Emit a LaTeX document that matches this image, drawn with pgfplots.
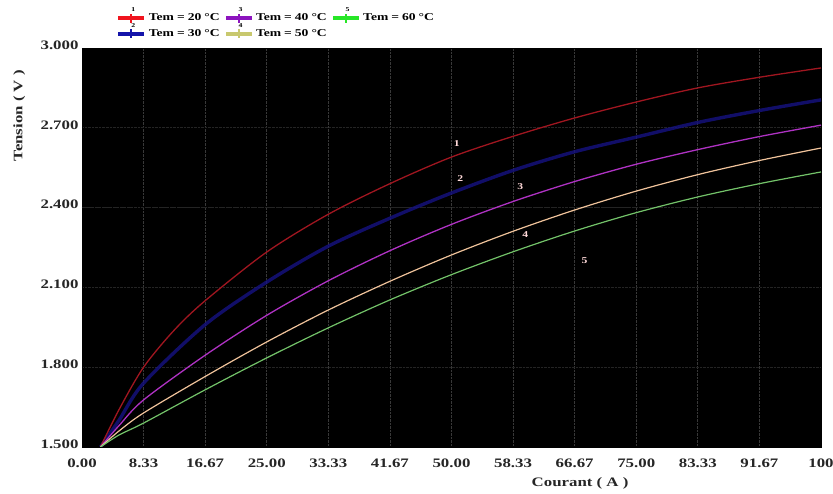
\documentclass[border=0pt]{standalone}
\usepackage{pgfplots}
\pgfplotsset{compat=1.18}
\usepackage{fontspec}
\setmainfont{Liberation Serif}[FakeStretch=1.3]
\definecolor{cred}{RGB}{160,22,32}
\definecolor{cblue}{RGB}{22,18,130}
\definecolor{cpurple}{RGB}{175,50,195}
\definecolor{corange}{RGB}{240,195,155}
\definecolor{cgreen}{RGB}{115,195,105}
\definecolor{lred}{RGB}{240,20,30}
\definecolor{lblue}{RGB}{20,20,170}
\definecolor{lpurple}{RGB}{140,20,190}
\definecolor{lyellow}{RGB}{200,200,110}
\definecolor{lgreen}{RGB}{40,230,40}
\newcommand{\legimg}[2]{%
  \addlegendimage{legend image code/.code={%
    \fill[#1] (0bp,-1.5bp) rectangle (25bp,1.5bp);
    \fill[#1] (12bp,-4bp) rectangle (13bp,4bp);
    \node[font=\fontsize{6}{6}\selectfont\bfseries,inner sep=0pt] at (12.5bp,7.5bp) {#2};}}}
\newcommand{\tem}[1]{Tem\hspace{3bp}=\hspace{3bp}#1\hspace{3bp}°C}
\begin{document}
\begin{tikzpicture}
\begin{axis}[
  name=ax,
  scale only axis,
  width=739bp, height=399bp,
  xmin=0, xmax=100, ymin=1.5, ymax=3.0,
  axis background/.style={fill=black},
  axis line style={black},
  major tick length=0pt,
  xtick={0,8.333,16.667,25,33.333,41.667,50,58.333,66.667,75,83.333,91.667,100},
  xticklabels={0.00,8.33,16.67,25.00,33.33,41.67,50.00,58.33,66.67,75.00,83.33,91.67,100},
  ytick={1.5,1.8,2.1,2.4,2.7,3.0},
  yticklabels={1.500,1.800,2.100,2.400,2.700,3.000},
  tick label style={font=\fontsize{13}{15}\selectfont\bfseries, text=black!85},
  xticklabel style={yshift=-8bp},
  yticklabel style={yshift=3bp},
  /pgf/number format/assume math mode=true,
  xmajorgrids, ymajorgrids,
  x grid style={densely dotted, white!22!black, line width=0.7bp},
  y grid style={densely dotted, white!14!black, line width=0.7bp},
  extra y ticks={2.4},
  extra y tick labels={},
  extra y tick style={grid style={densely dotted, white!55!black, line width=0.8bp}},
  xlabel={Courant ( A )},
  ylabel={Tension ( V )},
  label style={font=\fontsize{13}{15}\selectfont\bfseries, text=black!85},
  xlabel style={at={(axis description cs:0.674,-0.09)}, anchor=center},
  ylabel style={at={(axis description cs:-0.085,0.83)}, anchor=center},
  legend columns=3,
  legend style={at={(0.045,1)}, anchor=south west, yshift=6bp, draw=none, fill=none,
    font=\fontsize{10.5}{11}\selectfont\bfseries, row sep=-1bp,
    /tikz/every odd column/.append style={column sep=3bp},
    /tikz/every even column/.append style={column sep=4bp}},
  legend cell align=left,
]
\addplot[cblue, line width=3.4bp, opacity=0.8, smooth, forget plot] coordinates {
(2.5,1.5)(5,1.60)(8.333,1.74)(16.667,1.96)(25,2.12)(33.333,2.255)(41.667,2.36)(50,2.455)(58.333,2.54)(66.667,2.61)(75,2.665)(83.333,2.72)(91.667,2.765)(100,2.805)};
\addplot[cred, line width=1.3bp, smooth, forget plot] coordinates {
(2.5,1.5)(5,1.64)(8.333,1.80)(12.5,1.94)(16.667,2.05)(25,2.233)(33.333,2.375)(41.667,2.49)(50,2.59)(58.333,2.668)(66.667,2.737)(75,2.797)(83.333,2.85)(91.667,2.89)(100,2.925)};
\addplot[cpurple, line width=1.3bp, smooth, forget plot] coordinates {
(2.5,1.5)(5,1.58)(8.333,1.677)(16.667,1.845)(25,1.995)(33.333,2.125)(41.667,2.238)(50,2.337)(58.333,2.423)(66.667,2.498)(75,2.563)(83.333,2.618)(91.667,2.667)(100,2.71)};
\addplot[corange, line width=1.2bp, smooth, forget plot] coordinates {
(2.5,1.5)(5,1.56)(8.333,1.628)(16.667,1.765)(25,1.895)(33.333,2.015)(41.667,2.123)(50,2.222)(58.333,2.311)(66.667,2.391)(75,2.462)(83.333,2.524)(91.667,2.577)(100,2.624)};
\addplot[cgreen, line width=1.2bp, smooth, forget plot] coordinates {
(2.5,1.5)(5,1.545)(8.333,1.59)(16.667,1.715)(25,1.835)(33.333,1.948)(41.667,2.053)(50,2.148)(58.333,2.234)(66.667,2.312)(75,2.381)(83.333,2.44)(91.667,2.49)(100,2.534)};
\legimg{lred}{1}\addlegendentry{\tem{20}}
\legimg{lpurple}{3}\addlegendentry{\tem{40}}
\legimg{lgreen}{5}\addlegendentry{\tem{60}}
\legimg{lblue}{2}\addlegendentry{\tem{30}}
\legimg{lyellow}{4}\addlegendentry{\tem{50}}
\node[font=\fontsize{9}{9}\selectfont\bfseries, text=pink!60!white] at (axis cs:50.7,2.64) {1};
\node[font=\fontsize{9}{9}\selectfont\bfseries, text=pink!60!white] at (axis cs:51.2,2.51) {2};
\node[font=\fontsize{9}{9}\selectfont\bfseries, text=pink!60!white] at (axis cs:59.3,2.48) {3};
\node[font=\fontsize{9}{9}\selectfont\bfseries, text=pink!60!white] at (axis cs:60,2.30) {4};
\node[font=\fontsize{9}{9}\selectfont\bfseries, text=pink!60!white] at (axis cs:68,2.20) {5};
\end{axis}
\pgfresetboundingbox
\path[use as bounding box] ([shift={(-82bp,-47bp)}]ax.south west) rectangle ([shift={(12bp,48bp)}]ax.north east);
\end{tikzpicture}
\end{document}
